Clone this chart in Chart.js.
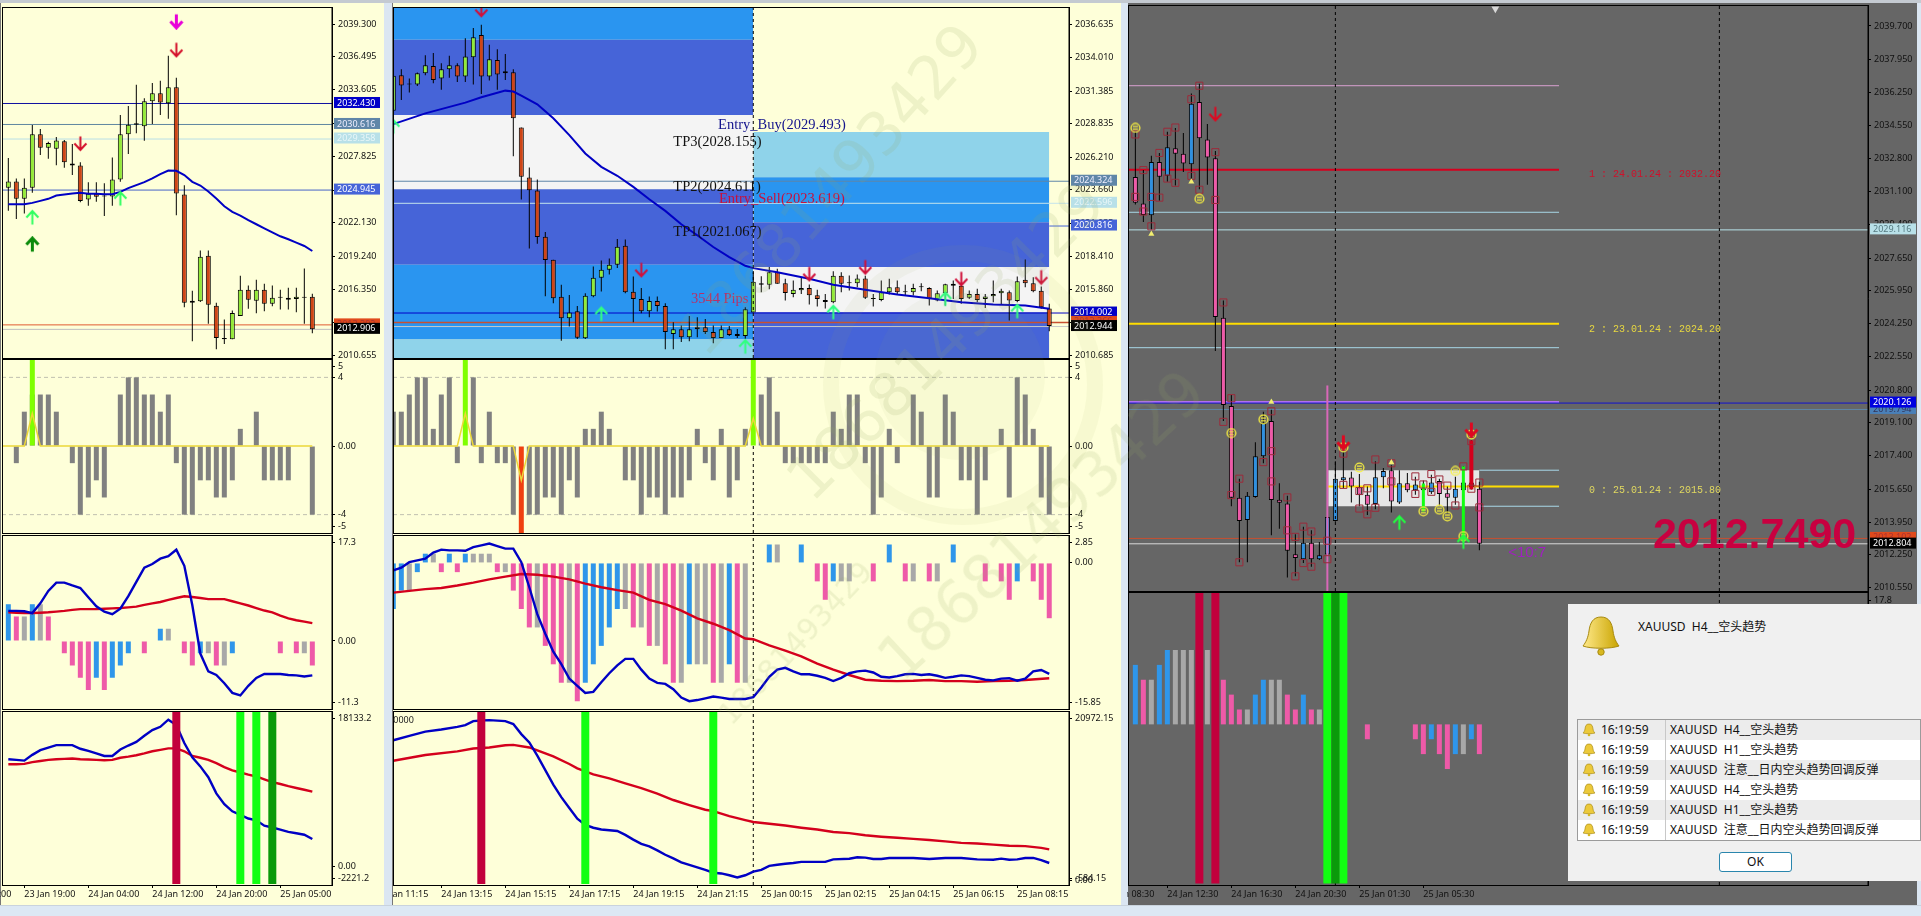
<!DOCTYPE html>
<html><head><meta charset="utf-8">
<script src="https://cdn.jsdelivr.net/npm/chart.js@4/dist/chart.umd.min.js"></script>
<style>
html,body{margin:0;padding:0;width:1921px;height:916px;overflow:hidden;background:#dbe6f2;font-family:"Noto Sans","Noto Sans CJK SC",sans-serif}
#top{position:absolute;left:0;top:0;width:1921px;height:3px;background:#c4cad1}
.win{position:absolute;top:3px;height:902px}
#bottom{position:absolute;left:0;top:905px;width:1921px;height:11px;background:#dce8f4;border-top:1px solid #c9d3dd;box-sizing:border-box}
canvas{position:absolute;display:block}
.wm{position:absolute;white-space:nowrap;color:rgba(150,165,100,.15);font-family:"DejaVu Sans";font-weight:400;transform-origin:0 100%;pointer-events:none;z-index:20;line-height:1}
.ring{position:absolute;border-radius:50%;pointer-events:none;z-index:19}
#dlg{position:absolute;left:1568px;top:604px;width:353px;height:277px;background:#f0f0f0;z-index:30;font-size:12px;color:#111}
#dlg .title{position:absolute;left:70px;top:14px;white-space:pre;font-size:12px;line-height:18px}
#dlg .big{position:absolute;left:13px;top:11px}
#tbl{position:absolute;left:9px;top:115px;width:344px;height:122px;border:1px solid #9b9b9b;box-sizing:border-box;background:#fff}
.row{position:relative;height:20px;white-space:pre;line-height:20px;font-size:12px}
.row:nth-child(odd){background:#ececec}
.row svg{position:absolute;left:4px;top:3px}
.row .t{position:absolute;left:23px}
.row .m{position:absolute;left:87px;border-left:1px solid #c8c8c8;padding-left:4px;height:20px}
#ok{position:absolute;left:151px;top:248px;width:73px;height:20px;box-sizing:border-box;border:1px solid #2a86ad;border-radius:3px;background:#fff;text-align:center;line-height:18px;font-size:12px}
</style></head><body>
<div id="top"></div>
<div class="win" style="left:0;width:384px;background:#feffd9;border-left:1px solid #777;box-sizing:border-box"></div>
<div class="win" style="left:392px;width:729px;background:#feffd9;border-left:1px solid #777;box-sizing:border-box"></div>
<div class="win" style="left:1128px;width:789px;background:#666"></div>
<div id="bottom"></div>
<div id="stage"></div>

<div class="ring" style="left:823px;top:245px;width:280px;height:280px;border:16px solid rgba(150,165,100,.07);box-sizing:border-box"></div>
<div class="ring" style="left:875px;top:290px;width:170px;height:170px;background:rgba(150,165,100,.06)"></div>
<div class="wm" style="left:712px;top:305px;font-size:60px;transform:rotate(-48deg)">18681493429</div>
<div class="wm" style="left:818px;top:450px;font-size:60px;transform:rotate(-45deg)">18681493429</div>
<div class="wm" style="left:908px;top:630px;font-size:60px;transform:rotate(-43deg)">18681493429</div>
<div class="wm" style="left:735px;top:700px;font-size:30px;transform:rotate(-47deg)">18681493429</div>

<div id="dlg">
 <svg class="big" width="40" height="42" viewBox="0 0 40 42"><defs><linearGradient id="g" x1="0" x2="1"><stop offset="0" stop-color="#ffe98a"/><stop offset="1" stop-color="#c9a400"/></linearGradient></defs><path d="M20 2c-8 0-11 6-12 14-1 7-3 11-6 15 8 3 28 3 36 0-3-4-5-8-6-15C31 8 28 2 20 2z" fill="url(#g)" stroke="#a88a10"/><circle cx="20" cy="37" r="3.2" fill="#d8b820" stroke="#a88a10"/></svg>
 <div class="title">XAUUSD  H4__空头趋势</div>
 <div id="tbl"></div>
 <div id="ok">OK</div>
</div>

<script>
/* ---------- left window : candles ---------- */
const leftOpen=[2025.14,2025.69,2024.19,2025.14,2029.76,2028.61,2028.52,2029.16,2027.25,2027.08,2024.13,2024.62,2024.39,2024.39,2025.86,2029.76,2030.60,2030.46,2032.62,2033.32,2032.45,2033.84,2024.56,2015.20,2015.34,2019.27,2014.94,2012.16,2012.05,2014.07,2016.32,2015.37,2016.32,2015.11,2015.63,2015.63,2015.54,2015.72,2015.72];
const leftClose=[2025.69,2024.19,2025.14,2029.76,2028.61,2029.01,2029.24,2027.34,2027.08,2024.01,2024.62,2024.36,2024.39,2025.86,2029.76,2030.60,2030.72,2032.62,2033.32,2032.51,2033.84,2024.65,2015.20,2015.37,2019.18,2015.03,2012.16,2012.05,2014.33,2016.32,2015.46,2016.32,2015.11,2015.63,2015.63,2015.46,2015.72,2015.63,2012.91];
const leftHigh=[2027.71,2025.95,2025.95,2030.57,2030.23,2029.13,2029.53,2029.27,2028.93,2027.34,2025.63,2025.63,2025.54,2027.77,2031.44,2032.22,2034.04,2032.88,2034.21,2034.39,2036.55,2034.65,2025.37,2016.24,2019.73,2019.73,2015.20,2013.75,2014.53,2017.54,2016.70,2017.19,2016.84,2016.70,2016.32,2016.50,2016.50,2018.17,2015.98];
const leftLow=[2023.15,2022.45,2022.91,2024.71,2027.97,2027.65,2027.10,2026.87,2026.24,2023.90,2023.58,2023.93,2022.71,2023.58,2025.66,2028.06,2029.85,2029.21,2030.66,2031.44,2031.12,2022.77,2014.82,2011.87,2015.26,2013.38,2011.18,2011.64,2012.05,2014.07,2014.68,2014.30,2014.47,2014.91,2014.62,2014.62,2014.39,2013.38,2012.57];
const leftEma=[2023.72,2023.72,2023.72,2023.84,2024.01,2024.19,2024.47,2024.56,2024.65,2024.71,2024.62,2024.62,2024.59,2024.59,2024.79,2025.11,2025.37,2025.63,2025.95,2026.32,2026.64,2026.61,2026.24,2025.66,2025.34,2024.82,2024.21,2023.55,2023.06,2022.74,2022.34,2021.99,2021.64,2021.29,2020.95,2020.69,2020.40,2020.11,2019.68];
const leftOsc=[null,-1,2,3,3,3,2,null,-1,-4,-3,-2,-3,null,3,4,4,3,3,2,3,-1,-4,-4,-2,-2,-3,-3,-2,1,null,2,-2,-2,-2,-2,null,null,-4];
const leftMacdHist=[4,6,4,4,6,6,4,null,-2,-4,-6,-8,-6,-8,-6,-4,-2,null,-2,null,2,2,null,-2,-4,-2,-2,-4,-4,-2,null,null,null,null,null,-2,null,-2,-2,-4];
const leftMacdTone="bbpgbgp_ppppbpbbb_p_bg_ppbgpgb_____p_pgp".split("");
const leftMacdBlue=[4.91,4.91,4.85,4.56,6.14,8.18,9.53,9.53,9.06,8.65,7.13,5.67,4.79,4.38,5.26,7.31,9.64,11.98,12.57,13.44,13.85,14.9,12.27,5.84,-2.05,-4.97,-5.55,-6.9,-8.47,-8.88,-7.31,-6.02,-5.38,-5.38,-5.38,-5.55,-5.61,-5.79,-5.61];
const leftMacdRed=[4.68,4.62,4.56,4.56,4.62,4.68,4.79,4.91,5.08,5.2,5.2,5.2,5.26,5.32,5.38,5.49,5.61,5.9,6.14,6.37,6.72,7.01,7.31,7.19,7.01,6.84,6.84,6.84,6.49,6.14,5.79,5.38,4.97,4.68,4.15,3.68,3.39,3.16,2.92];
const leftFlowBlue=[12495,12411,12327,13000,13547,13841,14136,14136,14136,13715,13462,13168,12873,12873,13631,14093,14514,15229,15902,16281,17122,16491,14388,12705,11653,10391,8498,7236,6395,5974,5553,5343,4712,4501,4249,3997,3828,3660,3155];
const leftFlowRed=[11906,11906,11948,12158,12284,12411,12495,12537,12579,12495,12453,12411,12369,12411,12663,12789,12958,13168,13420,13589,13757,13757,13420,12873,12663,12411,12032,11569,11191,10938,10686,10475,10139,9802,9592,9340,9129,8919,8708];
const leftPriceTicks=[2039.3,2036.495,2033.605,2030.715,2027.825,2024.935,2022.13,2019.24,2016.35,2013.46,2010.655];
const leftTimeBars=[-5,3,11,19,27,35];
const leftTimeLabels=["23 Jan 11:00","23 Jan 19:00","24 Jan 04:00","24 Jan 12:00","24 Jan 20:00","25 Jan 05:00"];

/* ---------- middle window ---------- */
const midOpen=[2029.85,2032.63,2031.90,2031.90,2032.79,2033.34,2032.37,2033.10,2033.41,2032.52,2034.04,2035.77,2032.52,2033.81,2032.79,2032.86,2028.54,2024.62,2023.59,2019.98,2018.17,2015.27,2013.59,2014.14,2012.02,2015.32,2016.76,2017.39,2017.78,2019.27,2015.66,2015.11,2014.14,2014.95,2014.56,2012.36,2012.73,2012.10,2012.73,2012.89,2012.52,2012.05,2012.73,2012.36,2012.20,2014.04,2016.34,2016.21,2017.20,2016.34,2015.50,2015.79,2015.97,2015.40,2015.03,2014.85,2016.92,2016.34,2016.34,2016.71,2015.11,2015.03,2015.63,2016.03,2015.63,2015.63,2016.03,2015.97,2014.98,2015.56,2016.29,2016.13,2015.19,2015.50,2015.11,2015.32,2015.56,2015.63,2014.95,2016.60,2016.34,2015.74,2014.35];
const midClose=[2032.58,2031.82,2031.90,2032.79,2033.41,2032.26,2033.10,2033.41,2032.52,2034.09,2035.61,2032.52,2033.88,2032.68,2032.94,2029.25,2024.67,2023.62,2019.95,2018.15,2015.16,2013.59,2014.04,2012.07,2015.35,2016.76,2017.39,2017.78,2019.20,2015.63,2015.11,2014.14,2014.95,2014.56,2012.52,2012.73,2012.10,2012.73,2012.89,2012.52,2012.05,2012.73,2012.28,2012.20,2014.30,2016.45,2016.21,2017.20,2016.29,2015.58,2015.82,2015.97,2015.40,2015.11,2014.87,2016.92,2016.29,2016.34,2016.71,2015.19,2015.11,2015.63,2016.03,2015.63,2015.63,2015.97,2016.03,2015.14,2015.56,2016.26,2016.13,2015.11,2015.50,2015.03,2015.29,2015.50,2015.74,2014.98,2016.50,2016.34,2015.71,2014.46,2012.99];
const midHigh=[2033.05,2033.10,2032.37,2032.84,2034.20,2034.36,2033.57,2034.15,2033.57,2035.53,2036.32,2036.58,2035.01,2034.67,2034.28,2033.10,2028.54,2025.40,2024.46,2020.35,2018.17,2016.21,2015.42,2014.56,2015.56,2017.65,2018.12,2018.28,2019.80,2019.77,2016.87,2015.97,2015.29,2015.29,2014.77,2013.28,2013.02,2013.77,2013.67,2013.54,2013.02,2013.02,2012.99,2012.75,2014.46,2017.20,2016.89,2017.60,2017.47,2016.68,2016.55,2016.76,2016.24,2015.82,2015.50,2017.28,2017.20,2016.94,2017.02,2016.92,2015.50,2016.55,2016.68,2016.55,2016.21,2016.29,2016.34,2016.03,2015.76,2016.29,2016.55,2016.29,2015.76,2015.90,2015.50,2016.55,2015.90,2015.76,2016.87,2018.20,2016.81,2016.08,2014.72];
const midLow=[2029.85,2030.69,2031.27,2031.79,2032.63,2032.00,2031.48,2032.42,2032.10,2032.10,2031.90,2031.16,2032.21,2031.48,2032.26,2026.29,2022.89,2019.06,2019.43,2015.32,2014.77,2011.84,2012.94,2011.97,2011.97,2015.24,2015.69,2017.02,2017.52,2015.56,2013.28,2013.98,2013.67,2014.12,2011.16,2011.16,2011.73,2011.79,2012.10,2012.36,2011.63,2012.05,2012.20,2012.05,2011.99,2014.04,2015.63,2015.87,2016.29,2014.98,2015.24,2015.50,2014.67,2014.51,2014.35,2014.77,2015.63,2015.76,2016.03,2015.11,2014.51,2014.93,2015.45,2015.45,2015.42,2015.37,2015.71,2014.59,2014.93,2014.59,2015.11,2014.72,2015.11,2014.85,2014.40,2014.85,2014.67,2013.41,2014.85,2016.03,2015.63,2014.33,2012.57];
const midEmaBars=[0,4,9,11,14,15,16,18,20,22,24,26,28,30,32,34,36,38,40,42,44,45,48,52,55,59,63,67,71,75,79,82];
const midEmaVals=[2028.80,2029.64,2030.48,2030.90,2031.42,2031.35,2031.03,2030.35,2029.25,2027.94,2026.50,2025.45,2024.75,2023.88,2022.91,2022.00,2020.95,2020.09,2019.17,2018.38,2017.70,2017.52,2017.20,2016.68,2016.21,2015.82,2015.45,2015.16,2014.85,2014.67,2014.59,2014.33];
const midOsc=[2,2,3,4,4,1,3,4,-1,null,4,-1,2,-1,-1,-4,null,-4,-4,-3,-3,-4,-2,-3,1,1,2,1,null,-2,-2,-4,-3,-3,-4,-3,-3,-2,1,-1,-2,1,-3,-2,1,null,3,4,2,-1,-1,-1,-1,-1,-1,2,1,3,3,-1,-4,-3,1,-1,null,3,2,-3,-3,3,2,-2,-2,-4,-2,null,1,-3,4,3,1,-3,-4];
const midMacdHist=[-5,-3,-3,-1,1,1,-1,1,-1,1,1,1,1,-1,-1,-3,-5,-7,-7,-9,-11,-13,-13,-15,-13,-11,-9,-7,-5,-5,-7,-7,-9,-9,-11,-13,-13,-11,-11,-11,-13,-13,-11,-13,-13,null,null,2,2,null,null,2,null,-2,-4,-2,-2,-2,null,null,-2,null,2,null,-2,-2,null,-2,-2,null,2,null,null,null,-2,null,-2,-4,-2,null,-2,-4,-6];
const midMacdTone=("bbgbbgpbpb"+"gggpgpppgp"+"ppgpbbbbbg"+"pgpgppgbgg"+"pgbpg__bg_"+"_b_ppbgg__"+"p_b_pg_pg_"+"b___p_ppb_"+"ppp").split("");
const midMacdBlue=[-0.82,-0.51,0.08,0.27,0.47,1.13,1.44,1.36,1.36,1.32,1.71,1.9,2.1,1.83,1.55,1.55,0.08,-2.64,-5.56,-7.69,-9.63,-10.99,-12.55,-13.33,-14.1,-13.99,-12.94,-11.97,-11.11,-10.41,-10.41,-11.58,-12.55,-13.01,-13.13,-13.71,-14.61,-15.0,-14.88,-14.69,-14.49,-14.61,-14.76,-14.76,-14.76,-14.57,-13.52,-12.35,-11.58,-11.38,-11.77,-12.08,-12.08,-12.24,-12.47,-12.82,-12.47,-11.97,-11.77,-11.69,-11.89,-12.35,-12.43,-12.28,-12.08,-12.04,-12.16,-12.08,-12.24,-12.47,-12.35,-12.2,-12.28,-12.47,-12.67,-12.74,-12.55,-12.51,-12.78,-12.55,-11.77,-11.62,-12.04];
const midMacdRedBars=[0,2,4,6,8,10,12,14,16,18,20,22,24,26,28,30,32,34,36,38,40,42,44,45,47,49,51,53,55,57,59,61,63,65,67,69,71,73,75,77,79,82];
const midMacdRedVals=[-3.22,-3.03,-2.84,-2.72,-2.45,-2.14,-1.79,-1.48,-1.2,-1.28,-1.48,-1.79,-2.25,-2.64,-2.95,-3.22,-4.0,-4.47,-5.17,-6.02,-6.6,-7.3,-8.2,-8.28,-8.94,-9.52,-10.14,-10.92,-11.58,-12.16,-12.67,-12.78,-12.82,-12.78,-12.7,-12.82,-12.82,-12.9,-12.82,-12.78,-12.7,-12.51];
const midFlowBlueBars=[0,2,4,6,8,9,10,11,12,14,15,16,17,18,19,20,21,22,23,24,25,26,28,29,30,31,32,33,34,35,36,37,38,39,40,41,42,43,44,45,46,47,48,49,50,51,54,55,57,58,59,60,61,62,65,67,69,71,73,75,76,77,78,79,80,81,82];
const midFlowBlueVals=[17349,17885,18420,18687,19000,19223,19713,19802,19847,19713,19356,18108,17082,15432,13648,11864,10303,8965,7627,6868,6512,6289,6110,5620,5040,4505,4192,3702,3167,2721,2230,1918,1606,1293,937,847,624,357,624,1070,1293,1784,1918,2052,2141,2275,2275,2587,2676,2854,2810,2631,2631,2765,2765,2631,2765,2765,2587,2542,2676,2542,2587,2765,2765,2498,2141];
const midFlowRedBars=[0,4,8,10,12,14,15,17,18,20,22,23,25,27,29,31,33,35,37,39,40,42,44,45,47,49,51,53,55,57,59,61,63,65,67,69,71,73,75,77,79,81,82];
const midFlowRedVals=[14807,15521,15967,16324,16457,16725,16770,16457,16101,15342,14406,13871,13112,12622,11997,11418,10749,9946,9321,8742,8563,7939,7448,7225,7002,6779,6512,6289,5976,5843,5575,5397,5263,5129,4995,4817,4638,4549,4415,4282,4237,4014,3836];
const midPriceTicks=[2036.635,2034.01,2031.385,2028.835,2026.21,2023.66,2021.035,2018.41,2015.86,2013.235,2010.685];
const midTimeBars=[-2,6,14,22,30,38,46,54,62,70,78];
const midTimeLabels=["24 Jan 11:15","24 Jan 13:15","24 Jan 15:15","24 Jan 17:15","24 Jan 19:15","24 Jan 21:15","25 Jan 00:15","25 Jan 02:15","25 Jan 04:15","25 Jan 06:15","25 Jan 08:15"];
const midBandEdgesLeft=[2037.97,2035.40,2029.51,2023.70,2017.78,2011.92,2010.48];
const midBandEdgesRight=[2028.18,2024.64,2021.11,2017.60,2014.06,2010.48];

/* ---------- right window ---------- */
const rightOpen=[2031.86,2030.49,2029.87,2032.64,2031.92,2033.35,2033.07,2032.52,2035.76,2033.81,2032.84,2024.56,2019.98,2015.21,2014.05,2015.25,2017.36,2019.19,2015.11,2014.91,2012.28,2012.02,2012.88,2012.02,2012.26,2014.01,2016.12,2016.26,2015.76,2015.36,2014.89,2016.28,2016.64,2014.97,2015.96,2015.6,2015.6,2015.49,2016.08,2015.45,2015.21,2015.6,2016.0,2015.68];
const rightClose=[2030.53,2029.89,2032.64,2031.88,2033.41,2033.07,2032.56,2035.66,2033.87,2032.87,2024.6,2020.02,2015.21,2014.01,2015.31,2017.36,2019.09,2015.09,2014.95,2012.46,2012.08,2012.88,2012.02,2012.22,2014.21,2016.2,2016.28,2015.8,2015.36,2014.85,2016.28,2016.6,2015.01,2015.96,2015.6,2015.9,2015.7,2016.0,2015.41,2015.21,2015.68,2016.0,2015.76,2012.82];
const rightHigh=[2034.21,2032.22,2032.96,2033.11,2034.21,2034.41,2034.15,2036.2,2036.7,2034.61,2033.21,2025.45,2020.54,2016.2,2015.51,2018.09,2019.68,2019.78,2015.96,2015.31,2013.32,2013.71,2013.52,2012.92,2014.21,2017.1,2017.59,2016.56,2016.44,2015.8,2017.1,2016.76,2016.9,2016.64,2016.5,2016.3,2016.1,2016.4,2016.2,2015.8,2016.3,2016.84,2018.19,2016.04];
const rightLow=[2030.43,2029.53,2029.14,2030.63,2031.62,2031.42,2032.12,2031.72,2031.22,2031.46,2022.83,2019.19,2014.77,2011.86,2011.86,2015.21,2017.0,2013.26,2013.6,2011.07,2011.13,2011.82,2011.63,2011.98,2011.98,2013.97,2015.7,2014.97,2014.77,2014.31,2014.61,2015.7,2014.45,2014.89,2015.5,2015.36,2014.81,2015.41,2014.81,2014.41,2014.85,2013.02,2015.64,2012.48];
const rightBoxBars=[0,0,1,1,2,2,3,3,4,4,5,5,7,7,8,8,10,10,11,12,11,12,13,13,16,17,17,17,19,19,20,20,21,21,22,22,24,24,26,26,28,28,29,29,30,30,32,32,35,35,36,37,37,38,39,40,41,42,42,43,43];
const rightBoxVals=[2034.07,2030.83,2032.22,2030.07,2030.83,2029.3,2033.11,2030.79,2034.21,2031.78,2034.43,2031.56,2035.9,2031.92,2036.6,2031.2,2033.15,2030.67,2025.35,2020.38,2019.15,2015.35,2016.2,2011.86,2017.06,2019.7,2017.63,2016.06,2015.23,2013.52,2013.18,2011.13,2013.71,2011.82,2013.46,2011.63,2012.98,2012.02,2017.5,2015.88,2015.56,2014.65,2015.7,2014.35,2017.2,2014.69,2017.0,2016.06,2016.32,2015.41,2015.9,2016.44,2015.52,2016.16,2015.84,2014.81,2016.84,2018.15,2015.68,2016.0,2014.71];
const rightSmileBars=[0,8,12,16,26,28,36,38,39,40,41,42];
const rightSmileVals=[2034.41,2030.73,2018.57,2019.28,2017.83,2016.78,2014.51,2014.59,2014.25,2016.6,2013.22,2018.49];
const rightStarBars=[2,7,17,32];
const rightStarVals=[2028.9,2031.62,2020.18,2017.04];
const rightHist=[8,6,6,8,10,10,10,10,null,10,null,6,4,2,2,4,6,6,6,4,2,4,2,2,null,null,null,null,null,-2,null,null,null,null,null,-2,-4,-2,-4,-6,-4,-4,-2,-4];
const rightTone="bpgbbgggxgxpppgbbggppbpgxxxxxpxxxxxppbppbgbp".split("");
const rightPriceTicks=[2039.7,2037.95,2036.25,2034.55,2032.8,2031.1,2029.4,2027.65,2025.95,2024.25,2022.55,2020.8,2019.1,2017.4,2015.65,2013.95,2012.25,2010.55];
const rightTimeBars=[-4,4,12,20,28,36];
const rightTimeLabels=["24 Jan 08:30","24 Jan 12:30","24 Jan 16:30","24 Jan 20:30","25 Jan 01:30","25 Jan 05:30"];
const alertRows=["XAUUSD  H4__空头趋势","XAUUSD  H1__空头趋势","XAUUSD  注意__日内空头趋势回调反弹","XAUUSD  H4__空头趋势","XAUUSD  H1__空头趋势","XAUUSD  注意__日内空头趋势回调反弹"];

/* ---------- colours ---------- */
const UP="#93ea38",DOWN="#cf4516",BLUE="#0000c4",RED="#d4001c",TONE={b:"#2f96ea",p:"#ee5aa8",g:"#a8a8a8"};
const LIME="#12ff12",DGREEN="#0a9a0a",CRIM="#c2003c",OSCG="#808080",SIG="#7fff00",OSCR="#f04010";
const FONT='"Noto Sans"';

/* ---------- helpers ---------- */
function arrow(color,down,bold){
  const c=document.createElement("canvas");c.width=15;c.height=17;const g=c.getContext("2d");
  g.strokeStyle=color;g.lineWidth=bold?3:2;g.lineCap="butt";g.translate(7.5,8.5);if(!down)g.scale(1,-1);
  g.beginPath();g.moveTo(0,-7);g.lineTo(0,6);g.moveTo(-6,0);g.lineTo(0,6.5);g.lineTo(6,0);g.stroke();return c;
}
function smiley(){
  const c=document.createElement("canvas");c.width=11;c.height=11;const g=c.getContext("2d");
  g.strokeStyle="#f8f040";g.lineWidth=1.3;g.beginPath();g.arc(5.5,5.5,4.4,0,7);g.stroke();
  g.beginPath();g.moveTo(3,4.2);g.lineTo(8,4.2);g.moveTo(3,6.8);g.lineTo(8,6.8);g.stroke();return c;
}
const pts=(xs,ys)=>xs.map((x,i)=>({x,y:ys[i]}));
const seq=(first,ys)=>ys.map((y,i)=>({x:first+i,y}));
function candles(first,o,c,h,l,up,down,w){
  const col=o.map((v,i)=>c[i]>=v?up:down);
  return [
    {type:"bar",grouped:false,data:h.map((v,i)=>({x:first+i,y:[l[i],v]})),backgroundColor:"#000",barThickness:1,borderWidth:0,inflateAmount:0},
    {type:"bar",grouped:false,data:o.map((v,i)=>({x:first+i,y:[v,c[i]]})),backgroundColor:col,borderColor:"#000",borderWidth:1,borderSkipped:false,barThickness:w||5,minBarLength:1,inflateAmount:0}
  ];
}
const line=(data,color,w,extra)=>Object.assign({type:"line",data,borderColor:color,borderWidth:w,pointRadius:0,tension:0,fill:false},extra||{});
const hist=(first,vals,color,w)=>({type:"bar",grouped:false,data:vals.map((y,i)=>({x:first+i,y})),backgroundColor:color,barThickness:w||5,borderWidth:0,inflateAmount:0});
const marks=(xs,ys,style,r,extra)=>Object.assign({type:"line",showLine:false,data:pts(xs,ys),pointStyle:style,pointRadius:r||6,borderWidth:0,pointBorderWidth:0},extra||{});
const band=(a,b,top,bottom,color)=>({type:"line",data:[{x:a,y:top},{x:b,y:top}],borderWidth:0,pointRadius:0,fill:{value:bottom},backgroundColor:color});
const hline=(y,a,b,color,w,dash)=>line([{x:a,y},{x:b,y}],color,w,dash?{borderDash:dash}:{});
const vline=(x,a,b,color,w,dash)=>line([{x,y:a},{x,y:b}],color,w,dash?{borderDash:dash}:{});
const signal=(xs,lo,hi,color,w)=>({type:"bar",grouped:false,data:xs.map(x=>({x,y:[lo,hi]})),backgroundColor:color,barThickness:w,borderWidth:0,inflateAmount:0});

function panel(o){
  const cv=document.createElement("canvas");
  const pad=1,axisH=o.timeBars?22:0;
  const H=o.bottom-o.top+pad*2+axisH,W=o.cRight-o.cLeft;
  cv.width=W;cv.height=H;cv.style.left=o.cLeft+"px";cv.style.top=(o.top-pad)+"px";cv.style.width=W+"px";cv.style.height=H+"px";
  document.getElementById("stage").appendChild(cv);
  const ink=o.ink||"#111";
  const n=o.datasets.length;o.datasets.forEach((d,i)=>{d.order=n-i;});
  const plug={id:"decor"+Math.random().toString(36).slice(2),afterDraw(ch){
    const g=ch.ctx,a=ch.chartArea,X=ch.scales.x,Y=ch.scales.y;
    g.save();g.strokeStyle="#000";g.lineWidth=1;g.strokeRect(a.left+.5,a.top+.5,a.right-a.left-1+.5,a.bottom-a.top);
    (o.notes||[]).forEach(t=>{g.font=t.font;g.fillStyle=t.color;g.textAlign="left";g.textBaseline="middle";g.fillText(t.text,X.getPixelForValue(t.x),Y.getPixelForValue(t.y));});
    (o.tags||[]).forEach(t=>{const y=Y.getPixelForValue(t.y)-1;g.fillStyle=t.bg;g.fillRect(a.right+2,y-5.5,46,11);
      g.font="9px "+FONT;g.fillStyle=t.fg;g.textAlign="left";g.textBaseline="middle";g.fillText(t.text,a.right+5,y+.5);});
    g.restore();
  }};
  new Chart(cv,{type:"bar",data:{datasets:o.datasets},plugins:[plug],options:{
    responsive:false,animation:false,events:[],devicePixelRatio:1,
    layout:{autoPadding:false,padding:{left:o.left-o.cLeft,top:pad,right:0,bottom:o.timeBars?0:pad}},
    plugins:{legend:{display:false},title:{display:false},tooltip:{enabled:false}},
    scales:{
      x:{type:"linear",offset:false,min:o.xMin,max:o.xMax,display:!!o.timeBars,
        grid:{offset:false,drawOnChartArea:false,drawTicks:true,tickLength:3,color:"#000"},border:{display:true,color:"#000"},
        afterBuildTicks(s){if(o.timeBars)s.ticks=o.timeBars.map(v=>({value:v}));},
        afterFit(s){s.height=axisH;s.paddingLeft=s.paddingRight=0;},
        ticks:{autoSkip:false,maxRotation:0,minRotation:0,align:"start",padding:1,color:ink,font:{family:FONT,size:9},callback:(v,i)=>o.timeLabels?o.timeLabels[i]:""}},
      y:{type:"linear",position:"right",min:o.yMin,max:o.yMax,
        grid:{drawOnChartArea:false,drawTicks:true,tickLength:3,color:"#000"},border:{display:true,color:"#000"},
        afterBuildTicks(s){s.ticks=o.yTicks.map(v=>({value:v}));},
        afterFit(s){s.width=o.cRight-o.right;s.paddingTop=s.paddingBottom=0;},
        ticks:{autoSkip:false,padding:3,color:ink,font:{family:FONT,size:9},callback:(v,i)=>o.yLabels?o.yLabels[i]:v.toFixed(3)}}
    }}});
}

/* ---------- rows shared ---------- */
const ROW={a:[359,533],b:[535,709],c:[711,884]};
const L={cLeft:0,cRight:384,left:2,right:332,xMin:0.21,xMax:41.46};
const M={cLeft:392,cRight:1121,left:393,right:1069,xMin:-0.04,xMax:84.47};
const R={cLeft:1127,cRight:1917,left:1128,right:1868,xMin:-0.92,xMax:91.58};

/* left main */
panel({...L,top:7,bottom:358,yMin:2010.43,yMax:2040.77,yTicks:leftPriceTicks,datasets:[
  hline(2032.43,L.xMin,L.xMax,"#1010a0",1),hline(2030.616,L.xMin,L.xMax,"#5f86a0",1),hline(2029.358,L.xMin,L.xMax,"#b8dfe6",1),hline(2024.945,L.xMin,L.xMax,"#4664c8",1),
  hline(2013.292,L.xMin,L.xMax,"#e05a30",1),hline(2012.906,L.xMin,L.xMax,"#bdbdbd",1),
  ...candles(1,leftOpen,leftClose,leftHigh,leftLow,UP,DOWN),
  line(seq(1,leftEma),BLUE,2),
  marks([22],[2039.53],arrow("#e800d8",true,true)),marks([22,10],[2037.07,2028.98],arrow("#d4102a",true)),
  marks([4,15],[2022.57,2024.21],arrow("#30ff60",false)),marks([4],[2020.23],arrow("#0a8a0a",false,true))
 ],tags:[
  {y:2032.43,text:"2032.430",bg:"#0000c8",fg:"#fff"},{y:2030.616,text:"2030.616",bg:"#5f86a8",fg:"#eef"},{y:2029.358,text:"2029.358",bg:"#b8e0e8",fg:"#e8f6f8"},{y:2024.945,text:"2024.945",bg:"#4664d8",fg:"#fff"},
  {y:2013.292,text:"2013.292",bg:"#e04a1c",fg:"#a33"},{y:2012.906,text:"2012.906",bg:"#000",fg:"#fff"}]});
panel({...L,top:ROW.a[0],bottom:ROW.a[1],yMin:-5.07,yMax:5.07,yTicks:[4.63,4,0,-4,-4.7],yLabels:["5","4","0.00","-4","-5"],datasets:[
  hline(4,L.xMin,L.xMax,"#c0c0b0",1,[4,3]),hline(-4,L.xMin,L.xMax,"#c0c0b0",1,[4,3]),
  hist(1,leftOsc,OSCG),signal([4],0,5.07,SIG,5),
  line(pts([0.21,3,4,5,39],[0,0,1.9,0,0]),"#ecd838",1.5)]});
panel({...L,top:ROW.b[0],bottom:ROW.b[1],yMin:-11.1,yMax:17.3,yTicks:[16.13,0,-10.05],yLabels:["17.3","0.00","-11.3"],datasets:[
  hist(0,leftMacdHist,leftMacdTone.map(t=>TONE[t]||"#0000")),
  line(seq(1,leftMacdRed),RED,2.4),line(seq(1,leftMacdBlue),BLUE,2.4)]});
panel({...L,top:ROW.c[0],bottom:ROW.c[1],yMin:-2221.2,yMax:18133.2,yTicks:[17290,0,-1430],yLabels:["18133.2","0.00","-2221.2"],timeBars:leftTimeBars,timeLabels:leftTimeLabels,datasets:[
  line(seq(1,leftFlowRed),RED,2.4),line(seq(1,leftFlowBlue),BLUE,2.4),
  signal([22],-2100,18133.2,CRIM,8),signal([30,32],-2100,18133.2,LIME,8),signal([34],-2100,18133.2,DGREEN,8)]});

/* middle main */
const mBandL=midBandEdgesLeft,mBandR=midBandEdgesRight,mColorL=["#2a95f0","#4664d8","#f4f4f4","#4664d8","#2a95f0","#8fd3ea"],mColorR=["#8fd3ea","#2a95f0","#4664d8","#f4f4f4","#4664d8"];
panel({...M,top:7,bottom:358,yMin:2010.48,yMax:2037.97,yTicks:midPriceTicks,datasets:[
  ...mColorL.map((c,i)=>band(M.xMin,45,mBandL[i],mBandL[i+1],c)),
  ...mColorR.map((c,i)=>band(45,82,mBandR[i],mBandR[i+1],c)),
  hline(2024.324,M.xMin,M.xMax,"#5f86a8",1),hline(2022.596,M.xMin,M.xMax,"#c4e4ec",1),hline(2020.816,82,M.xMax,"#4664d8",1),
  hline(2014.002,M.xMin,M.xMax,"#0000c8",1),hline(2013.266,M.xMin,M.xMax,"#c85030",1.5),hline(2012.944,M.xMin,M.xMax,"#c8c8c8",1),
  ...candles(0,midOpen,midClose,midHigh,midLow,UP,DOWN),
  line(pts(midEmaBars,midEmaVals),BLUE,2),
  marks([11,31,52,59,71,81],[2037.76,2017.39,2017.07,2017.6,2016.68,2016.81],arrow("#d0103a",true)),
  marks([0,26,44,55,69,78],[2028.6,2013.93,2011.37,2014.06,2015.11,2014.14],arrow("#30ff80",false)),
  vline(45,2010.48,2037.97,"#000",1,[3,3])
 ],notes:[
  {text:"Entry_Buy(2029.493)",x:40.6,y:2028.73,color:"#14148c",font:'14.5px "Liberation Serif"'},
  {text:"TP3(2028.155)",x:35,y:2027.42,color:"#111",font:'14.5px "Liberation Serif"'},
  {text:"TP2(2024.611)",x:35,y:2023.88,color:"#111",font:'14.5px "Liberation Serif"'},
  {text:"Entry_Sell(2023.619)",x:40.7,y:2022.91,color:"#c8103c",font:'14.5px "Liberation Serif"'},
  {text:"TP1(2021.067)",x:35,y:2020.35,color:"#111",font:'14.5px "Liberation Serif"'},
  {text:"3544 Pips",x:37.2,y:2015.11,color:"#b83068",font:'14.5px "Liberation Serif"'}
 ],tags:[
  {y:2024.324,text:"2024.324",bg:"#5f86a8",fg:"#eef"},{y:2022.596,text:"2022.596",bg:"#b8e0e8",fg:"#e8f6f8"},{y:2020.816,text:"2020.816",bg:"#4664d8",fg:"#fff"},
  {y:2014.002,text:"2014.002",bg:"#0000c8",fg:"#fff"},{y:2013.266,text:"2013.266",bg:"#e04a1c",fg:"#a33"},{y:2012.944,text:"2012.944",bg:"#000",fg:"#fff"}]});
panel({...M,top:ROW.a[0],bottom:ROW.a[1],yMin:-5.07,yMax:5.07,yTicks:[4.63,4,0,-4,-4.7],yLabels:["5","4","0.00","-4","-5"],datasets:[
  hline(4,M.xMin,M.xMax,"#c0c0b0",1,[4,3]),hline(-4,M.xMin,M.xMax,"#c0c0b0",1,[4,3]),
  vline(45,-5.07,5.07,"#000",1,[3,3]),
  hist(0,midOsc,OSCG),signal([9,45],0,5.07,SIG,5),signal([16],-5.07,0,OSCR,5),
  line(pts([-0.04,8,9,10,15,16,17,44,45,46,82],[0,0,1.9,0,0,-2,0,0,1.6,0,0]),"#ecd838",1.5)]});
panel({...M,top:ROW.b[0],bottom:ROW.b[1],yMin:-15.85,yMax:3.03,yTicks:[2.21,0,-15.15],yLabels:["2.85","0.00","-15.85"],datasets:[
  hist(0,midMacdHist,midMacdTone.map(t=>TONE[t]||"#0000")),
  vline(45,-15.85,3.03,"#000",1,[3,3]),
  line(pts(midMacdRedBars,midMacdRedVals),RED,2.4),line(seq(0,midMacdBlue),BLUE,2.4)]});
panel({...M,top:ROW.c[0],bottom:ROW.c[1],yMin:-584.15,yMax:20972.15,yTicks:[20070,223,0],yLabels:["20972.15","-584.15","0.00"],timeBars:midTimeBars,timeLabels:midTimeLabels,datasets:[
  vline(45,-584.15,20972.15,"#000",1,[3,3]),
  line(pts(midFlowRedBars,midFlowRedVals),RED,2.4),line(pts(midFlowBlueBars,midFlowBlueVals),BLUE,2.4),
  signal([11],-450,20972.15,CRIM,8),signal([24,40],-450,20972.15,LIME,8)
 ],notes:[{text:"0000",x:0,y:19847,color:"#222",font:"9px "+FONT}]});

/* right main */
const lineEnd=52.96;
panel({...R,top:5,bottom:591,ink:"#111",yMin:2010.37,yMax:2040.79,yTicks:rightPriceTicks,datasets:[
  band(24.1,43,2016.64,2014.77,"#e6e6e6"),
  hline(2036.6,R.xMin,lineEnd,"#d8a0d0",1),hline(2032.24,R.xMin,lineEnd,"#d6001e",2),hline(2030.03,R.xMin,lineEnd,"#a8d8e8",1),
  hline(2029.116,R.xMin,R.xMax,"#b8e4ea",1),hline(2024.24,R.xMin,lineEnd,"#ffdd00",2),hline(2023.0,R.xMin,lineEnd,"#a8d8e8",1),
  hline(2020.18,R.xMin,lineEnd,"#b070f0",2),hline(2020.126,R.xMin,R.xMax,"#1010d0",1),hline(2019.794,R.xMin,R.xMax,"#5f86a8",1),
  hline(2016.64,43,lineEnd,"#a8d8e8",1),hline(2015.8,24.1,lineEnd,"#ffdd00",2),hline(2014.77,43,lineEnd,"#a8d8e8",1),
  hline(2013.1,R.xMin,R.xMax,"#c85030",1),hline(2012.82,R.xMin,R.xMax,"#d8d8d8",1),
  ...candles(0,rightOpen,rightClose,rightHigh,rightLow,"#2f90e0","#ee5aa8"),
  vline(24,2010.37,2021.04,"#d868b8",2),
  signal([36],2014.5,2015.95,LIME,3),signal([41],2012.92,2016.84,LIME,3),signal([42],2015.64,2018.19,"#d4001c",4),
  marks(rightBoxBars,rightBoxVals,"rect",5,{pointBorderColor:"#9c2a3a",pointBorderWidth:1,pointBackgroundColor:"rgba(0,0,0,0)"}),
  marks(rightSmileBars,rightSmileVals,smiley()),
  marks(rightStarBars,rightStarVals,"triangle",3.5,{pointBackgroundColor:"#f2ee70"}),
  marks([10],[2035.14],arrow("#e00820",true)),marks([26,42],[2018.09,2018.75],arrow("#e00820",true,true)),
  marks([33],[2013.91],arrow("#20ff40",false)),marks([41],[2012.92],arrow("#20ff40",false)),
  marks([45],[2040.6],"triangle",4.5,{pointBackgroundColor:"#d8d8d8",pointRotation:180}),
  vline(25,2010.37,2040.79,"#000",1,[3,3]),vline(73,2010.37,2040.79,"#000",1,[3,3])
 ],notes:[
  {text:"1 : 24.01.24 : 2032.20",x:56.7,y:2031.98,color:"#d0102a",font:'10px "Liberation Mono"'},
  {text:"2 : 23.01.24 : 2024.20",x:56.7,y:2023.96,color:"#e8d840",font:'10px "Liberation Mono"'},
  {text:"0 : 25.01.24 : 2015.80",x:56.7,y:2015.6,color:"#e0d860",font:'10px "Liberation Mono"'},
  {text:"2012.7490",x:64.7,y:2013.22,color:"#c80040",font:'bold 43px "Liberation Sans"'},
  {text:"<10:7",x:46.6,y:2012.36,color:"#a020c0",font:'15px "Liberation Sans"'}
 ],tags:[
  {y:2029.116,text:"2029.116",bg:"#b8e0e8",fg:"#557a80"},{y:2019.794,text:"2019.794",bg:"#4a80b8",fg:"#335"},{y:2020.126,text:"2020.126",bg:"#0000e0",fg:"#fff"},
  {y:2013.1,text:"2013.102",bg:"#e04a1c",fg:"#a33"},{y:2012.804,text:"2012.804",bg:"#000",fg:"#fff"}]});
panel({...R,top:592,bottom:884,yMin:-21.6,yMax:17.8,yTicks:[16.7],yLabels:["17.8"],timeBars:rightTimeBars,timeLabels:rightTimeLabels,datasets:[
  vline(25,-21.6,17.8,"#000",1,[3,3]),vline(73,-21.6,17.8,"#000",1,[3,3]),
  hist(0,rightHist,rightTone.map(t=>TONE[t]||"#0000")),
  signal([8,10],-21.4,17.8,CRIM,8),signal([24,26],-21.4,17.8,LIME,8),signal([25],-21.4,17.8,DGREEN,8)]});

/* alert list */
const tbl=document.getElementById("tbl");
const bell='<svg width="14" height="14" viewBox="0 0 14 14"><path d="M7 1C4 1 3.4 3 3 6c-.3 2-1 3-2 4 3 1 9 1 12 0-1-1-1.700-2-2-4-.4-3-1-5-4-5z" fill="#ecc93a" stroke="#a98c18" stroke-width=".7"/><circle cx="7" cy="12" r="1.300" fill="#d8b820"/></svg>';
alertRows.forEach(m=>{const r=document.createElement("div");r.className="row";r.innerHTML=bell+'<span class="t">16:19:59</span><span class="m"></span>';r.querySelector(".m").textContent=m;tbl.appendChild(r);});
</script>
</body></html>
